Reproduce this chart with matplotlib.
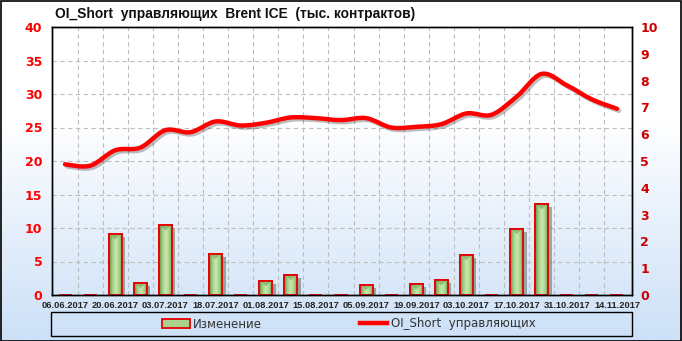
import matplotlib.pyplot as plt
import matplotlib.patheffects as pe
import numpy as np
from matplotlib.colors import LinearSegmentedColormap
from matplotlib.lines import Line2D
from matplotlib.patches import Patch, PathPatch, Polygon, Rectangle
from matplotlib.path import Path

# weekly report dates (only every other one is labelled on the axis)
dates = ['06.06.2017', '13.06.2017', '20.06.2017', '27.06.2017', '03.07.2017',
         '11.07.2017', '18.07.2017', '25.07.2017', '01.08.2017', '08.08.2017',
         '15.08.2017', '29.08.2017', '05.09.2017', '12.09.2017', '19.09.2017',
         '26.09.2017', '03.10.2017', '10.10.2017', '17.10.2017', '24.10.2017',
         '31.10.2017', '07.11.2017', '14.11.2017']

# OI_Short of managed money, thousand contracts (left axis)
oi_short = [19.5, 19.3, 21.6, 22.0, 24.6, 24.3, 25.9, 25.3, 25.7, 26.5, 26.4, 26.1,
            26.4, 25.0, 25.1, 25.5, 27.1, 26.9, 29.6, 33.0, 31.3, 29.2, 27.8]

# weekly change, thousand contracts (right axis)
change = [0, 0, 2.27, 0.45, 2.6, 0, 1.53, 0, 0.53, 0.75, 0, 0, 0.37, 0, 0.4, 0.55,
          1.5, 0, 2.47, 3.39, 0, 0, 0]

title = 'OI_Short  управляющих  Brent ICE  (тыс. контрактов)'
bar_label = 'Изменение'
line_label = 'OI_Short  управляющих'

W, H = 682, 341
fig = plt.figure(figsize=(W / 100, H / 100), dpi=100)

# background gradient, white at the top to light blue at the bottom
bg = fig.add_axes([0, 0, 1, 1], zorder=-10)
bg_cmap = LinearSegmentedColormap.from_list(
    'bg', [(0, 'white'), (0.35, 'white'), (1, '#cce0f7')])
bg.imshow(np.linspace(0, 1, 256).reshape(-1, 1), aspect='auto', cmap=bg_cmap,
          extent=[0, 1, 0, 1], origin='upper')
bg.set_xlim(0, 1)
bg.set_ylim(0, 1)
bg.axis('off')
bg.add_patch(Rectangle((0.5 / W, 0.5 / H), 1 - 1.5 / W, 1 - 1.5 / H,
                       fill=False, edgecolor='black', lw=1.2))

ax = fig.add_axes([52 / W, 1 - 295 / H, 580 / W, 268 / H])
ax.patch.set_alpha(0)
ax2 = ax.twinx()

x = np.arange(len(dates))

# grid
grid_style = dict(color='#bdbdbd', linestyle=(0, (4, 3)), linewidth=0.8)
ax.set_yticks(np.arange(0, 41, 5))
ax.set_xticks(x[::2])
ax.set_xticklabels(dates[::2])
ax.set_xticks(x[:-1] + 0.5, minor=True)
ax.grid(axis='y', which='major', **grid_style)
ax.grid(axis='x', which='minor', **grid_style)
ax.set_axisbelow(True)

# bars on the right axis
bar_w = 0.52
bars = ax2.bar(x, change, width=bar_w, color='#a9d38c', edgecolor='#e60000',
               linewidth=1.3, zorder=2,
               path_effects=[pe.SimplePatchShadow(offset=(2.5, -2), alpha=0.4),
                             pe.Normal()])
bar_cmap = LinearSegmentedColormap.from_list(
    'bar', ['#5e8c44', '#a4cf86', '#cbe8b0', '#a4cf86', '#5e8c44'])
grad = np.linspace(0, 1, 64).reshape(1, -1)
for xi, h, b in zip(x, change, bars):
    if h <= 0:
        continue
    im = ax2.imshow(grad, aspect='auto', cmap=bar_cmap, zorder=2.1,
                    extent=[xi - bar_w / 2, xi + bar_w / 2, 0, h])
    im.set_clip_path(b)
    tri_h = min(0.2, h * 0.5)
    ax2.add_patch(Polygon([[xi - bar_w / 2 + 0.05, h], [xi + bar_w / 2 - 0.05, h],
                           [xi, h - tri_h]], closed=True, facecolor='#6f9c55',
                          edgecolor='none', alpha=0.55, zorder=2.2))
    ax2.add_patch(Rectangle((xi - bar_w / 2, 0), bar_w, h, fill=False,
                            edgecolor='#e60000', linewidth=1.3, zorder=2.3))

# smooth line on the left axis (Catmull-Rom through the data points)
pts = np.column_stack([x, oi_short]).astype(float)
verts = [pts[0]]
codes = [Path.MOVETO]
for i in range(len(pts) - 1):
    p0 = pts[max(i - 1, 0)]
    p1 = pts[i]
    p2 = pts[i + 1]
    p3 = pts[min(i + 2, len(pts) - 1)]
    verts += [p1 + (p2 - p0) / 6, p2 - (p3 - p1) / 6, p2]
    codes += [Path.CURVE4] * 3
line_patch = PathPatch(Path(verts, codes), facecolor='none', edgecolor='#ff0000',
                       linewidth=3.2, capstyle='round', zorder=5,
                       path_effects=[pe.SimpleLineShadow(offset=(1.5, -1.5),
                                                         shadow_color='black',
                                                         alpha=0.25),
                                     pe.Normal()])
ax.add_patch(line_patch)

ax.set_xlim(-0.52, 22.6)
ax.set_ylim(0, 40)
ax2.set_ylim(0, 10)
ax2.set_yticks(np.arange(0, 11, 1))

ax.tick_params(axis='y', length=0, pad=7, labelcolor='#ff0000', labelsize=9)
ax2.tick_params(axis='y', length=0, pad=6, labelcolor='#cc0000', labelsize=9)
ax.tick_params(axis='x', which='both', length=0, pad=4, labelcolor='#222222')
for lab in ax.get_yticklabels() + ax2.get_yticklabels():
    lab.set_fontweight('bold')
for lab in ax.get_xticklabels():
    lab.set_fontweight('bold')
    lab.set_fontfamily('Liberation Sans')
    lab.set_fontsize(6.7)
for a in (ax, ax2):
    for s in a.spines.values():
        s.set_color('black')
        s.set_linewidth(1.0)

fig.text(55 / W, 1 - 14 / H, title, fontsize=9.9, fontweight='bold',
         family='Liberation Sans', color='#111111', va='center', ha='left')

# legend box
bg.add_patch(Rectangle((51 / W, 1 - 336 / H), 581 / W, 24 / H, facecolor='none',
                       edgecolor='black', lw=1.0))
handles = [Patch(facecolor='#a9d38c', edgecolor='#e60000', linewidth=1.3),
           Line2D([], [], color='#ff0000', linewidth=3.2)]
fig.legend(handles, [bar_label, line_label], loc='center', ncol=2,
           bbox_to_anchor=(349 / W, 1 - 324 / H), frameon=False, fontsize=8.5,
           handlelength=2.3, handleheight=0.8, handletextpad=0.3,
           columnspacing=8.3, labelcolor='#333333')

fig.savefig('out.png', dpi=100)
